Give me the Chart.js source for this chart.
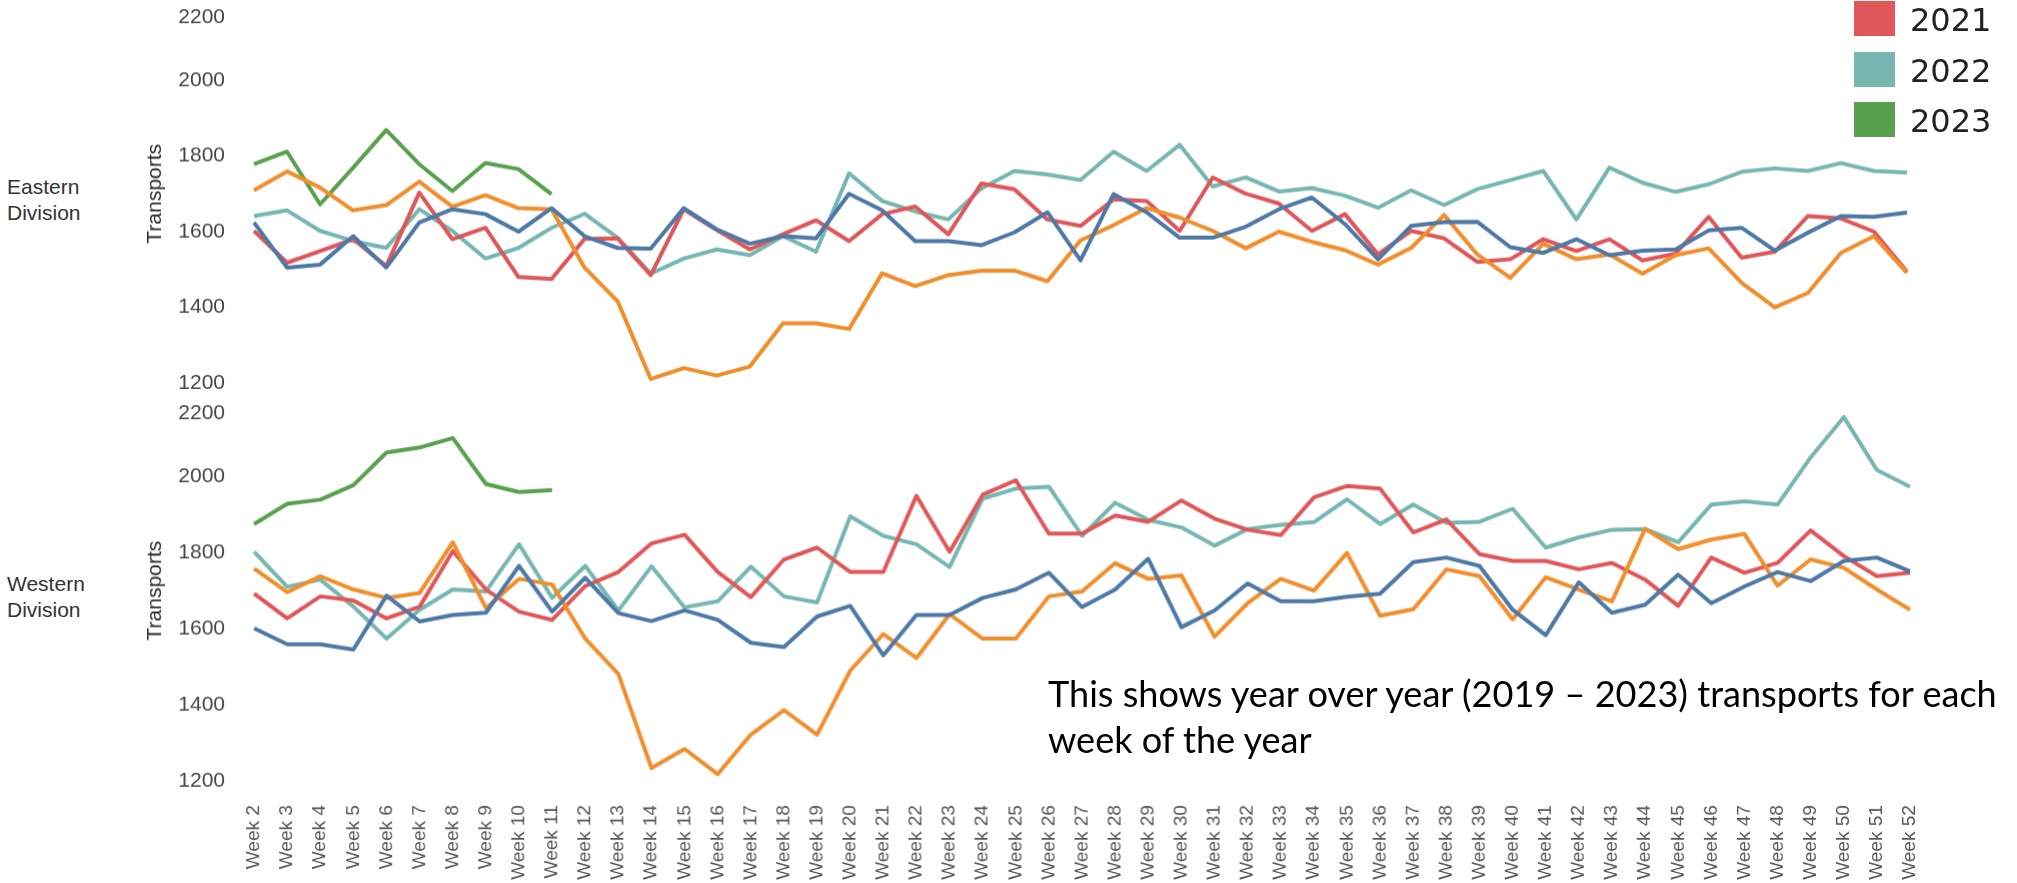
<!DOCTYPE html>
<html>
<head>
<meta charset="utf-8">
<script src="https://cdn.jsdelivr.net/npm/chart.js@4.4.1/dist/chart.umd.min.js"></script>
<style>
html, body { margin: 0; padding: 0; background: #fff; }
body { width: 2017px; height: 883px; position: relative; overflow: hidden; font-family: "Liberation Sans", Arial, sans-serif; }
canvas { position: absolute; left: 0; top: 0; }
.division { position: absolute; left: 7px; font-size: 21px; line-height: 26px; color: #333; }
.legend-item { position: absolute; left: 1854px; width: 160px; height: 35px; }
.legend-item .swatch { position: absolute; left: 0; top: 0; width: 41px; height: 35px; }
.legend-item .label { position: absolute; left: 56px; top: 2px; font-family: "DejaVu Sans", sans-serif; font-size: 32px; line-height: 35px; color: #222; }
.note { position: absolute; left: 1048px; top: 670px; font-family: Lato, sans-serif; line-height: 46px; color: #000; white-space: nowrap; }
</style>
</head>
<body>
<canvas id="eastChart" width="1800" height="480"></canvas>
<canvas id="westChart" width="1840" height="540"></canvas>
<div class="division" style="top:174px">Eastern<br>Division</div>
<div class="division" style="top:571px">Western<br>Division</div>
<div id="legend"></div>
<div class="note" id="note">This shows year over year (2019 – 2023) transports for each<br>week of the year</div>
<script>
// --- data ---
const weeks = ['Week 2', 'Week 3', 'Week 4', 'Week 5', 'Week 6', 'Week 7', 'Week 8', 'Week 9', 'Week 10',
    'Week 11', 'Week 12', 'Week 13', 'Week 14', 'Week 15', 'Week 16', 'Week 17', 'Week 18', 'Week 19', 'Week 20',
    'Week 21', 'Week 22', 'Week 23', 'Week 24', 'Week 25', 'Week 26', 'Week 27', 'Week 28', 'Week 29', 'Week 30',
    'Week 31', 'Week 32', 'Week 33', 'Week 34', 'Week 35', 'Week 36', 'Week 37', 'Week 38', 'Week 39', 'Week 40',
    'Week 41', 'Week 42', 'Week 43', 'Week 44', 'Week 45', 'Week 46', 'Week 47', 'Week 48', 'Week 49', 'Week 50',
    'Week 51', 'Week 52'];
const years = ['2019', '2020', '2021', '2022', '2023'];
const yearColors = ['#4e79a7', '#f28e2b', '#e15759', '#76b7b2', '#59a14f'];
const yTicks = [1200, 1400, 1600, 1800, 2000, 2200];

// Eastern Division
const east2019 = [1624, 1505, 1513, 1588, 1505, 1624, 1659, 1646, 1600, 1662, 1588, 1557, 1555, 1662, 1606, 1568,
    1588, 1582, 1700, 1656, 1575, 1575, 1564, 1598, 1651, 1524, 1699, 1651, 1584, 1584, 1613, 1659, 1690, 1620,
    1527, 1615, 1625, 1626, 1559, 1544, 1580, 1538, 1550, 1553, 1603, 1610, 1550, 1597, 1641, 1639, 1650];
const east2020 = [1709, 1759, 1716, 1656, 1670, 1732, 1666, 1696, 1662, 1659, 1505, 1416, 1211, 1240, 1220, 1244,
    1358, 1358, 1343, 1490, 1456, 1485, 1497, 1497, 1469, 1577, 1617, 1662, 1637, 1602, 1556, 1600, 1573, 1551,
    1513, 1557, 1644, 1540, 1478, 1568, 1527, 1540, 1489, 1538, 1556, 1465, 1400, 1438, 1544, 1588, 1491];
const east2021 = [1602, 1518, 1549, 1580, 1509, 1703, 1580, 1610, 1480, 1475, 1581, 1582, 1485, 1659, 1604, 1553,
    1593, 1630, 1575, 1646, 1666, 1593, 1727, 1712, 1632, 1615, 1685, 1681, 1602, 1743, 1700, 1674, 1602, 1646,
    1540, 1602, 1582, 1520, 1527, 1580, 1549, 1580, 1524, 1542, 1639, 1531, 1547, 1641, 1635, 1600, 1494];
const east2022 = [1641, 1656, 1602, 1575, 1557, 1659, 1602, 1529, 1557, 1610, 1647, 1584, 1489, 1529, 1553, 1538,
    1588, 1547, 1754, 1681, 1653, 1632, 1714, 1760, 1751, 1736, 1811, 1760, 1829, 1719, 1743, 1706, 1715, 1695,
    1663, 1709, 1670, 1712, 1736, 1760, 1632, 1769, 1729, 1705, 1725, 1758, 1767, 1760, 1781, 1760, 1756];
const east2023 = [1778, 1811, 1672, 1769, 1868, 1778, 1707, 1781, 1765, 1699];

// Western Division
const west2019 = [1601, 1559, 1559, 1545, 1687, 1619, 1636, 1642, 1765, 1645, 1734, 1641, 1620, 1648, 1623, 1563,
    1552, 1632, 1660, 1530, 1636, 1636, 1681, 1703, 1747, 1657, 1703, 1784, 1604, 1648, 1719, 1672, 1672, 1684,
    1692, 1775, 1787, 1765, 1650, 1583, 1722, 1642, 1663, 1742, 1667, 1711, 1749, 1725, 1778, 1787, 1751];
const west2020 = [1758, 1696, 1738, 1703, 1681, 1694, 1827, 1654, 1731, 1716, 1574, 1481, 1234, 1284, 1218, 1322,
    1386, 1322, 1490, 1586, 1523, 1638, 1574, 1574, 1685, 1698, 1772, 1731, 1740, 1579, 1667, 1731, 1700, 1799,
    1634, 1651, 1756, 1738, 1625, 1735, 1703, 1672, 1862, 1809, 1834, 1849, 1713, 1782, 1760, 1703, 1650];
const west2021 = [1692, 1627, 1685, 1674, 1627, 1658, 1804, 1703, 1645, 1623, 1712, 1749, 1824, 1847, 1749, 1683,
    1782, 1813, 1749, 1749, 1949, 1802, 1952, 1990, 1850, 1850, 1897, 1881, 1937, 1889, 1860, 1846, 1945, 1975,
    1968, 1853, 1887, 1796, 1778, 1778, 1756, 1773, 1729, 1660, 1787, 1747, 1773, 1858, 1791, 1738, 1747];
const west2022 = [1802, 1710, 1729, 1658, 1574, 1650, 1703, 1698, 1822, 1681, 1765, 1648, 1764, 1656, 1672, 1763,
    1685, 1669, 1895, 1844, 1822, 1762, 1942, 1968, 1973, 1844, 1931, 1886, 1866, 1818, 1862, 1873, 1880, 1940,
    1875, 1926, 1878, 1881, 1915, 1813, 1840, 1860, 1862, 1827, 1926, 1935, 1926, 2050, 2156, 2017, 1973];
const west2023 = [1875, 1928, 1939, 1977, 2063, 2076, 2101, 1980, 1959, 1964];

Chart.defaults.font.family = '"Liberation Sans", Arial, sans-serif';
Chart.defaults.animation = false;

function makeDatasets(series) {
    return series.map((data, i) => ({
        label: years[i],
        data: data,
        borderColor: yearColors[i],
        backgroundColor: yearColors[i],
        borderWidth: 4,
        borderJoinStyle: 'round',
        pointRadius: 0,
        tension: 0,
        fill: false
    }));
}

function yAxis() {
    return {
        min: 1200,
        max: 2200,
        afterBuildTicks: s => { s.ticks = yTicks.map(v => ({ value: v })); },
        afterFit: s => { s.width = 115; },
        grid: { display: false, drawTicks: false },
        border: { display: false },
        ticks: {
            padding: 29,
            color: '#444',
            font: { size: 21 },
            // top label sits below its tick, as in the original
            callback: v => v === 2200 ? ['', String(v)] : String(v)
        },
        title: { display: true, text: 'Transports', color: '#2b2b2b', font: { size: 21 }, padding: { top: 4, bottom: 0 } }
    };
}

const baseOptions = {
    responsive: false,
    maintainAspectRatio: false,
    plugins: { legend: { display: false }, tooltip: { enabled: false } },
    layout: { padding: 0 }
};

const eastChart = new Chart(document.getElementById('eastChart'), {
    type: 'line',
    data: { labels: weeks, datasets: makeDatasets([east2019, east2020, east2021, east2022, east2023]) },
    options: Object.assign({}, baseOptions, {
        scales: { x: { display: false }, y: yAxis() }
    })
});

const westChart = new Chart(document.getElementById('westChart'), {
    type: 'line',
    data: { labels: weeks, datasets: makeDatasets([west2019, west2020, west2021, west2022, west2023]) },
    options: Object.assign({}, baseOptions, {
        scales: {
            x: {
                grid: { display: false, drawTicks: false },
                border: { display: false },
                ticks: { autoSkip: false, minRotation: 90, maxRotation: 90, padding: 24, color: '#555', font: { size: 19 } }
            },
            y: yAxis()
        }
    })
});

// put each plot area where it sits in the picture
function place(chart, left, top, right, bottom) {
    let a = chart.chartArea;
    chart.resize(chart.width + (right - left) - (a.right - a.left), chart.height + (bottom - top) - (a.bottom - a.top));
    a = chart.chartArea;
    chart.canvas.style.left = (left - a.left) + 'px';
    chart.canvas.style.top = (top - a.top) + 'px';
}
place(eastChart, 254, 4, 1909, 382);
place(westChart, 254, 400, 1909, 780);

// --- legend (2019 / 2020 fall above the visible edge) ---
const legend = document.getElementById('legend');
years.forEach((y, i) => {
    const item = document.createElement('div');
    item.className = 'legend-item';
    item.style.top = (1 + (i - 2) * 50.5) + 'px';
    item.innerHTML = '<span class="swatch" style="background:' + yearColors[i] + '"></span><span class="label">' + y + '</span>';
    legend.appendChild(item);
});

// --- note text, sized to the width it has in the picture ---
const note = document.getElementById('note');
const mctx = document.createElement('canvas').getContext('2d');
mctx.font = '100px Lato';
const fitSize = 100 * 954 / mctx.measureText('This shows year over year (2019 – 2023) transports for each').width;
note.style.fontSize = fitSize + 'px';
mctx.font = fitSize + 'px Lato';
const m = mctx.measureText('This');
const asc = m.fontBoundingBoxAscent, desc = m.fontBoundingBoxDescent;
note.style.top = (707 - (46 - (asc + desc)) / 2 - asc) + 'px';
</script>
</body>
</html>
